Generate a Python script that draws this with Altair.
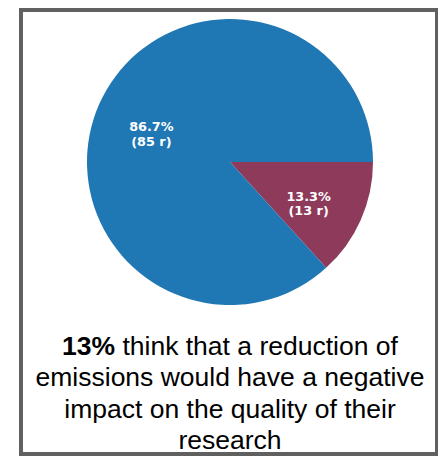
import math
import altair as alt
import pandas as pd

# ---- data ----
groups = ["Negative impact", "No negative impact"]
counts = [13, 85]
percents = [13.3, 86.7]
order = [0, 1]
colors = ["#8e3a5b", "#1f77b4"]

caption_bold = "13%"
caption_first_rest = "think that a reduction of"
caption_lines = [
    "emissions would have a negative",
    "impact on the quality of their",
    "research",
]

df = pd.DataFrame({
    "group": groups,
    "count": counts,
    "pct": percents,
    "order": order,
})
df["label"] = [f"{p:.1f}%\n({c} r)" for p, c in zip(percents, counts)]

W, H = 430, 448
cx, cy, R = 222, 154, 143

start = math.pi / 2
theta_scale = alt.Scale(range=[start, start + 2 * math.pi])

frame = alt.Chart(pd.DataFrame({"k": [0]})).mark_rect(
    fill="white", stroke="#606060", strokeWidth=4
).encode(
    x=alt.value(13), x2=alt.value(429), y=alt.value(2), y2=alt.value(446)
)

base = alt.Chart(df).encode(
    theta=alt.Theta("count:Q", stack=True, scale=theta_scale),
    order=alt.Order("order:Q"),
)

pie = base.mark_arc(radius=R, stroke=None).encode(
    x=alt.value(cx), y=alt.value(cy),
    color=alt.Color("group:N", scale=alt.Scale(domain=groups, range=colors), legend=None),
)

labels = base.mark_text(
    radius=86, font="DejaVu Sans", fontWeight="bold", fontSize=12.8,
    color="white", lineBreak="\n", lineHeight=14.5, align="center", baseline="middle",
).encode(
    x=alt.value(cx), y=alt.value(cy),
    text="label:N",
)

cap_font = "Liberation Sans"
cap_size = 26.5
bx = 107

cap_bold = alt.Chart(pd.DataFrame({"t": [caption_bold]})).mark_text(
    font=cap_font, fontSize=cap_size, fontWeight="bold", align="right",
    baseline="alphabetic", color="black",
).encode(text="t:N", x=alt.value(bx), y=alt.value(347))

cap_rest = alt.Chart(pd.DataFrame({"t": [caption_first_rest]})).mark_text(
    font=cap_font, fontSize=cap_size, align="left",
    baseline="alphabetic", color="black",
).encode(text="t:N", x=alt.value(bx + 7.4), y=alt.value(347))

cap_df = pd.DataFrame({"t": caption_lines, "i": list(range(len(caption_lines)))})
cap_others = alt.Chart(cap_df).mark_text(
    font=cap_font, fontSize=cap_size, align="center",
    baseline="alphabetic", color="black",
).encode(
    text="t:N",
    x=alt.value(222),
    y=alt.Y("i:Q", axis=None, scale=alt.Scale(domain=[0, 2], range=[378, 441], nice=False, zero=False)),
)

chart = alt.layer(frame, pie, labels, cap_bold, cap_rest, cap_others).properties(
    width=W, height=H, padding=0, autosize=alt.AutoSizeParams(type="none"),
).configure_view(stroke=None).resolve_scale(y="independent")

chart.save("out.html", embed_options={"renderer": "svg", "actions": False})
